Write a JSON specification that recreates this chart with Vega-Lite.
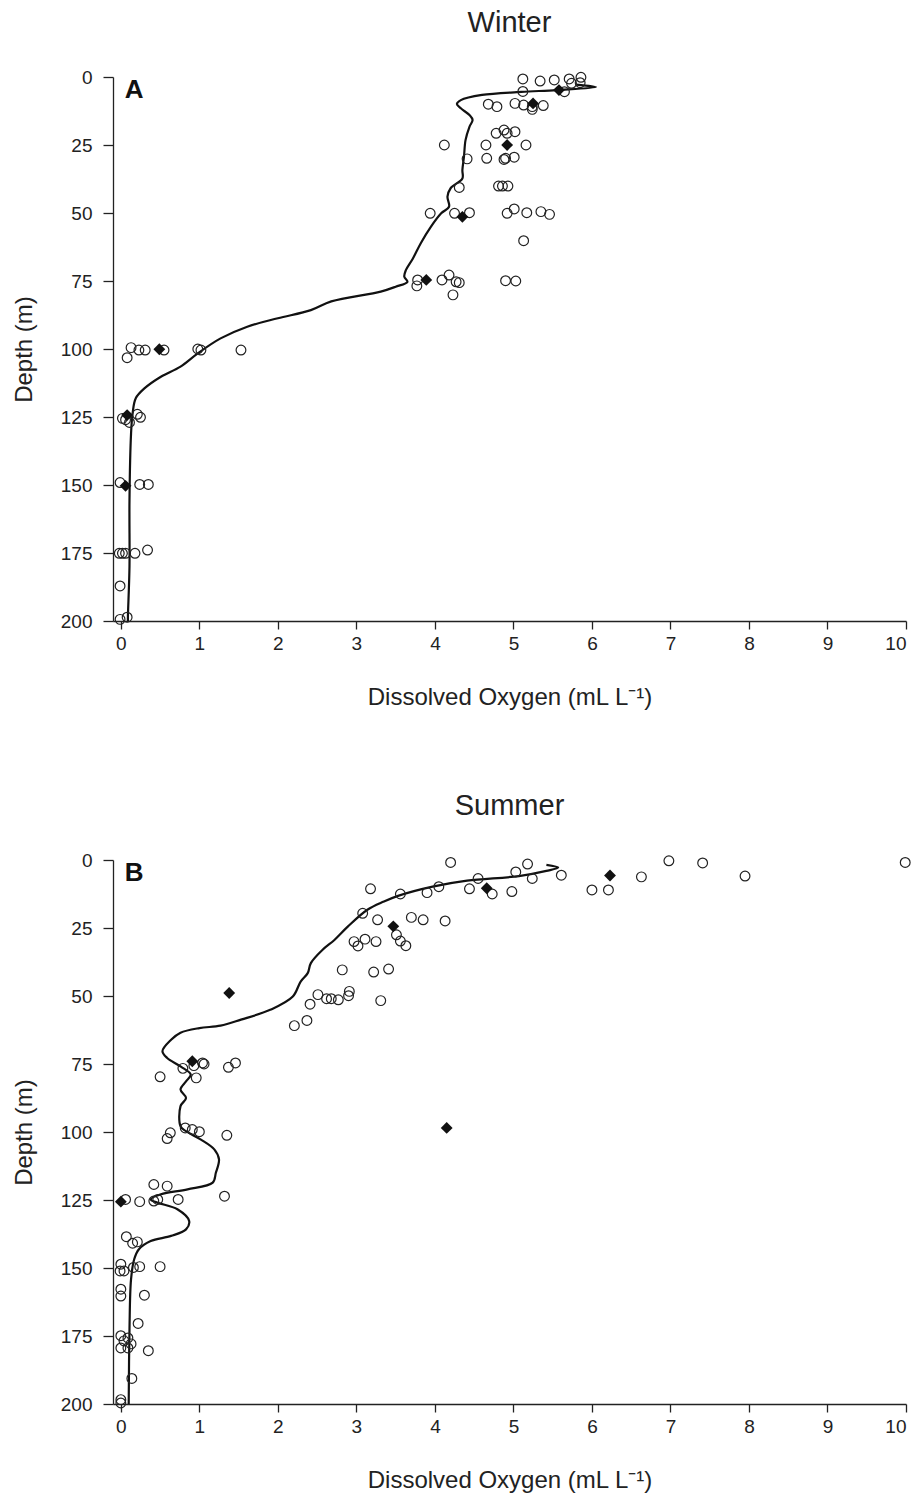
{
  "$schema": "https://vega.github.io/schema/vega-lite/v6.json",
  "background": "white",
  "padding": {"left": 12, "top": 9, "right": 5, "bottom": 5},
  "spacing": 83,
  "config": {
    "font": "Liberation Sans",
    "view": {"stroke": null},
    "axis": {"grid": false, "domainColor": "#222", "tickColor": "#222", "labelColor": "#222", "titleColor": "#222", "labelFontSize": 19, "titleFontSize": 24, "titleFontWeight": "normal", "domainWidth": 1.3, "tickWidth": 1.3},
    "title": {"fontSize": 29, "fontWeight": "normal", "color": "#222"}
  },
  "datasets": {
    "lineA": [
      {"i": 1, "do": 5.80, "depth": 2.8}, {"i": 2, "do": 6.05, "depth": 3.7}, {"i": 3, "do": 5.55, "depth": 4.8}, {"i": 4, "do": 5.10, "depth": 5.5}, {"i": 5, "do": 4.60, "depth": 6.6}, {"i": 6, "do": 4.33, "depth": 8.5}, {"i": 7, "do": 4.28, "depth": 9.9}, {"i": 8, "do": 4.33, "depth": 11.5}, {"i": 9, "do": 4.44, "depth": 14}, {"i": 10, "do": 4.48, "depth": 15.8}, {"i": 11, "do": 4.44, "depth": 18.3}, {"i": 12, "do": 4.39, "depth": 23.2}, {"i": 13, "do": 4.37, "depth": 29.3}, {"i": 14, "do": 4.35, "depth": 34.2}, {"i": 15, "do": 4.35, "depth": 37.3}, {"i": 16, "do": 4.20, "depth": 40.9}, {"i": 17, "do": 4.16, "depth": 44}, {"i": 18, "do": 4.18, "depth": 47.7}, {"i": 19, "do": 4.08, "depth": 50.1}, {"i": 20, "do": 3.95, "depth": 55}, {"i": 21, "do": 3.82, "depth": 61.1}, {"i": 22, "do": 3.72, "depth": 66.7}, {"i": 23, "do": 3.63, "depth": 71}, {"i": 24, "do": 3.61, "depth": 73.4}, {"i": 25, "do": 3.65, "depth": 75.3}, {"i": 26, "do": 3.50, "depth": 77.1}, {"i": 27, "do": 3.31, "depth": 78.9}, {"i": 28, "do": 2.68, "depth": 82.5}, {"i": 29, "do": 2.42, "depth": 85.7}, {"i": 30, "do": 2.0, "depth": 88.7}, {"i": 31, "do": 1.61, "depth": 91.8}, {"i": 32, "do": 1.27, "depth": 96.1}, {"i": 33, "do": 0.98, "depth": 101.6}, {"i": 34, "do": 0.76, "depth": 106.5}, {"i": 35, "do": 0.51, "depth": 110.2}, {"i": 36, "do": 0.30, "depth": 114.5}, {"i": 37, "do": 0.19, "depth": 118.1}, {"i": 38, "do": 0.15, "depth": 123.6}, {"i": 39, "do": 0.13, "depth": 131}, {"i": 40, "do": 0.11, "depth": 155.5}, {"i": 41, "do": 0.11, "depth": 180}, {"i": 42, "do": 0.09, "depth": 198.4}, {"i": 43, "do": 0.09, "depth": 200}
    ],
    "pointsA": [
      {"kind": "obs", "do": 5.12, "depth": 0.7}, {"kind": "obs", "do": 5.34, "depth": 1.5}, {"kind": "obs", "do": 5.52, "depth": 1.1}, {"kind": "obs", "do": 5.71, "depth": 0.7}, {"kind": "obs", "do": 5.86, "depth": 0.1}, {"kind": "obs", "do": 5.74, "depth": 2.3}, {"kind": "obs", "do": 5.85, "depth": 2.1}, {"kind": "obs", "do": 5.65, "depth": 5.4}, {"kind": "obs", "do": 5.12, "depth": 5.3},
      {"kind": "obs", "do": 4.68, "depth": 10.0}, {"kind": "obs", "do": 4.79, "depth": 10.9}, {"kind": "obs", "do": 5.02, "depth": 9.7}, {"kind": "obs", "do": 5.13, "depth": 10.3}, {"kind": "obs", "do": 5.24, "depth": 10.9}, {"kind": "obs", "do": 5.38, "depth": 10.5}, {"kind": "obs", "do": 5.24, "depth": 11.9},
      {"kind": "obs", "do": 4.78, "depth": 20.7}, {"kind": "obs", "do": 4.88, "depth": 19.5}, {"kind": "obs", "do": 4.92, "depth": 20.7}, {"kind": "obs", "do": 5.02, "depth": 20.1},
      {"kind": "obs", "do": 4.12, "depth": 25}, {"kind": "obs", "do": 4.65, "depth": 25}, {"kind": "obs", "do": 5.16, "depth": 25},
      {"kind": "obs", "do": 4.41, "depth": 30.1}, {"kind": "obs", "do": 4.66, "depth": 29.9}, {"kind": "obs", "do": 4.88, "depth": 30.3}, {"kind": "obs", "do": 4.90, "depth": 29.9}, {"kind": "obs", "do": 5.01, "depth": 29.5},
      {"kind": "obs", "do": 4.31, "depth": 40.6}, {"kind": "obs", "do": 4.81, "depth": 40.1}, {"kind": "obs", "do": 4.86, "depth": 40.1}, {"kind": "obs", "do": 4.93, "depth": 40.1},
      {"kind": "obs", "do": 3.94, "depth": 50.1}, {"kind": "obs", "do": 4.25, "depth": 50.1}, {"kind": "obs", "do": 4.44, "depth": 49.9}, {"kind": "obs", "do": 4.92, "depth": 50.1}, {"kind": "obs", "do": 5.01, "depth": 48.5}, {"kind": "obs", "do": 5.17, "depth": 49.9}, {"kind": "obs", "do": 5.35, "depth": 49.5}, {"kind": "obs", "do": 5.46, "depth": 50.5},
      {"kind": "obs", "do": 5.13, "depth": 60.2},
      {"kind": "obs", "do": 3.78, "depth": 74.6}, {"kind": "obs", "do": 3.77, "depth": 76.8}, {"kind": "obs", "do": 4.09, "depth": 74.6}, {"kind": "obs", "do": 4.18, "depth": 72.8}, {"kind": "obs", "do": 4.27, "depth": 75.3}, {"kind": "obs", "do": 4.31, "depth": 75.6}, {"kind": "obs", "do": 4.23, "depth": 80.1}, {"kind": "obs", "do": 4.90, "depth": 74.9}, {"kind": "obs", "do": 5.03, "depth": 75},
      {"kind": "obs", "do": 0.13, "depth": 99.5}, {"kind": "obs", "do": 0.23, "depth": 100.4}, {"kind": "obs", "do": 0.31, "depth": 100.4}, {"kind": "obs", "do": 0.08, "depth": 103.2}, {"kind": "obs", "do": 0.55, "depth": 100.4}, {"kind": "obs", "do": 0.98, "depth": 100}, {"kind": "obs", "do": 1.02, "depth": 100.4}, {"kind": "obs", "do": 1.53, "depth": 100.4},
      {"kind": "obs", "do": 0.02, "depth": 125.5}, {"kind": "obs", "do": 0.06, "depth": 126}, {"kind": "obs", "do": 0.11, "depth": 127}, {"kind": "obs", "do": 0.21, "depth": 124}, {"kind": "obs", "do": 0.25, "depth": 125.1},
      {"kind": "obs", "do": -0.01, "depth": 149.1}, {"kind": "obs", "do": 0.24, "depth": 149.8}, {"kind": "obs", "do": 0.35, "depth": 149.8},
      {"kind": "obs", "do": -0.02, "depth": 175.1}, {"kind": "obs", "do": 0.02, "depth": 175.1}, {"kind": "obs", "do": 0.06, "depth": 175.1}, {"kind": "obs", "do": 0.18, "depth": 175.1}, {"kind": "obs", "do": 0.34, "depth": 173.9},
      {"kind": "obs", "do": -0.01, "depth": 187.1}, {"kind": "obs", "do": -0.01, "depth": 199.4}, {"kind": "obs", "do": 0.08, "depth": 198.6},
      {"kind": "mean", "do": 5.58, "depth": 4.8}, {"kind": "mean", "do": 5.25, "depth": 9.7}, {"kind": "mean", "do": 4.92, "depth": 25}, {"kind": "mean", "do": 4.35, "depth": 51.4}, {"kind": "mean", "do": 3.89, "depth": 74.6}, {"kind": "mean", "do": 0.49, "depth": 100.1}, {"kind": "mean", "do": 0.08, "depth": 124.3}, {"kind": "mean", "do": 0.06, "depth": 150.3}
    ],
    "lineB": [
      {"i": 1, "do": 5.42, "depth": 1.8}, {"i": 2, "do": 5.57, "depth": 2.8}, {"i": 3, "do": 5.42, "depth": 4.0}, {"i": 4, "do": 5.07, "depth": 5.9}, {"i": 5, "do": 4.41, "depth": 7.6}, {"i": 6, "do": 3.97, "depth": 9.8}, {"i": 7, "do": 3.53, "depth": 13.2}, {"i": 8, "do": 3.35, "depth": 15.3}, {"i": 9, "do": 3.14, "depth": 18.3}, {"i": 10, "do": 2.89, "depth": 24.5}, {"i": 11, "do": 2.72, "depth": 29.4}, {"i": 12, "do": 2.57, "depth": 33}, {"i": 13, "do": 2.42, "depth": 37.9}, {"i": 14, "do": 2.38, "depth": 41.6}, {"i": 15, "do": 2.29, "depth": 44.7}, {"i": 16, "do": 2.19, "depth": 50.2}, {"i": 17, "do": 1.91, "depth": 55}, {"i": 18, "do": 1.53, "depth": 58.7}, {"i": 19, "do": 1.27, "depth": 60.9}, {"i": 20, "do": 1.0, "depth": 61.8}, {"i": 21, "do": 0.76, "depth": 63.5}, {"i": 22, "do": 0.64, "depth": 66.1}, {"i": 23, "do": 0.53, "depth": 70.3}, {"i": 24, "do": 0.59, "depth": 72.8}, {"i": 25, "do": 0.76, "depth": 75.9}, {"i": 26, "do": 0.89, "depth": 78.9}, {"i": 27, "do": 0.83, "depth": 81.4}, {"i": 28, "do": 0.76, "depth": 84.4}, {"i": 29, "do": 0.83, "depth": 87.5}, {"i": 30, "do": 0.76, "depth": 90.5}, {"i": 31, "do": 0.76, "depth": 97.9}, {"i": 32, "do": 0.83, "depth": 99.7}, {"i": 33, "do": 1.02, "depth": 102.8}, {"i": 34, "do": 1.19, "depth": 106.4}, {"i": 35, "do": 1.25, "depth": 110.1}, {"i": 36, "do": 1.21, "depth": 115}, {"i": 37, "do": 1.17, "depth": 118.6}, {"i": 38, "do": 0.85, "depth": 121.1}, {"i": 39, "do": 0.51, "depth": 122.9}, {"i": 40, "do": 0.38, "depth": 124.8}, {"i": 41, "do": 0.47, "depth": 126}, {"i": 42, "do": 0.72, "depth": 128.4}, {"i": 43, "do": 0.87, "depth": 132.7}, {"i": 44, "do": 0.83, "depth": 135.8}, {"i": 45, "do": 0.64, "depth": 138.2}, {"i": 46, "do": 0.38, "depth": 140.1}, {"i": 47, "do": 0.23, "depth": 143.1}, {"i": 48, "do": 0.17, "depth": 146.8}, {"i": 49, "do": 0.13, "depth": 154.1}, {"i": 50, "do": 0.11, "depth": 172.5}, {"i": 51, "do": 0.10, "depth": 200}
    ],
    "pointsB": [
      {"kind": "obs", "do": 4.20, "depth": 0.9}, {"kind": "obs", "do": 5.18, "depth": 1.5}, {"kind": "obs", "do": 5.03, "depth": 4.4}, {"kind": "obs", "do": 5.24, "depth": 6.8}, {"kind": "obs", "do": 5.61, "depth": 5.6}, {"kind": "obs", "do": 4.55, "depth": 6.8}, {"kind": "obs", "do": 4.44, "depth": 10.6}, {"kind": "obs", "do": 4.73, "depth": 12.5}, {"kind": "obs", "do": 4.98, "depth": 11.6}, {"kind": "obs", "do": 4.05, "depth": 9.8}, {"kind": "obs", "do": 3.90, "depth": 12}, {"kind": "obs", "do": 3.56, "depth": 12.5}, {"kind": "obs", "do": 6.0, "depth": 11}, {"kind": "obs", "do": 6.21, "depth": 11}, {"kind": "obs", "do": 6.63, "depth": 6.2}, {"kind": "obs", "do": 6.98, "depth": 0.3}, {"kind": "obs", "do": 7.41, "depth": 1.1}, {"kind": "obs", "do": 7.95, "depth": 5.9}, {"kind": "obs", "do": 9.99, "depth": 0.9},
      {"kind": "obs", "do": 3.18, "depth": 10.6}, {"kind": "obs", "do": 3.08, "depth": 19.6}, {"kind": "obs", "do": 3.27, "depth": 22}, {"kind": "obs", "do": 3.70, "depth": 21.1}, {"kind": "obs", "do": 3.85, "depth": 22}, {"kind": "obs", "do": 4.13, "depth": 22.4}, {"kind": "obs", "do": 3.51, "depth": 27.5}, {"kind": "obs", "do": 3.56, "depth": 29.8}, {"kind": "obs", "do": 3.63, "depth": 31.5},
      {"kind": "obs", "do": 2.97, "depth": 30}, {"kind": "obs", "do": 3.02, "depth": 31.6}, {"kind": "obs", "do": 3.11, "depth": 29.1}, {"kind": "obs", "do": 3.25, "depth": 30},
      {"kind": "obs", "do": 2.82, "depth": 40.4}, {"kind": "obs", "do": 3.22, "depth": 41.2}, {"kind": "obs", "do": 3.41, "depth": 40.1},
      {"kind": "obs", "do": 2.51, "depth": 49.5}, {"kind": "obs", "do": 2.41, "depth": 53}, {"kind": "obs", "do": 2.62, "depth": 51}, {"kind": "obs", "do": 2.68, "depth": 51}, {"kind": "obs", "do": 2.77, "depth": 51.4}, {"kind": "obs", "do": 2.91, "depth": 48.3}, {"kind": "obs", "do": 2.90, "depth": 49.9}, {"kind": "obs", "do": 3.31, "depth": 51.7}, {"kind": "obs", "do": 2.37, "depth": 59}, {"kind": "obs", "do": 2.21, "depth": 60.9},
      {"kind": "obs", "do": 1.37, "depth": 76.2}, {"kind": "obs", "do": 1.46, "depth": 74.6}, {"kind": "obs", "do": 0.79, "depth": 76.6}, {"kind": "obs", "do": 0.93, "depth": 75.6}, {"kind": "obs", "do": 1.04, "depth": 74.6}, {"kind": "obs", "do": 1.06, "depth": 75}, {"kind": "obs", "do": 0.50, "depth": 79.7}, {"kind": "obs", "do": 0.96, "depth": 80.1},
      {"kind": "obs", "do": 0.82, "depth": 98.5}, {"kind": "obs", "do": 0.91, "depth": 99.1}, {"kind": "obs", "do": 1.00, "depth": 99.9}, {"kind": "obs", "do": 0.63, "depth": 100.3}, {"kind": "obs", "do": 0.59, "depth": 102.4}, {"kind": "obs", "do": 1.35, "depth": 101.2},
      {"kind": "obs", "do": 0.42, "depth": 119.3}, {"kind": "obs", "do": 0.59, "depth": 119.9}, {"kind": "obs", "do": 1.32, "depth": 123.6}, {"kind": "obs", "do": 0.06, "depth": 124.8}, {"kind": "obs", "do": 0.24, "depth": 125.6}, {"kind": "obs", "do": 0.42, "depth": 125.4}, {"kind": "obs", "do": 0.47, "depth": 124.8}, {"kind": "obs", "do": 0.73, "depth": 124.8},
      {"kind": "obs", "do": 0.07, "depth": 138.5}, {"kind": "obs", "do": 0.15, "depth": 140.9}, {"kind": "obs", "do": 0.21, "depth": 140.4},
      {"kind": "obs", "do": 0.0, "depth": 148.6}, {"kind": "obs", "do": -0.01, "depth": 151.1}, {"kind": "obs", "do": 0.04, "depth": 151.1}, {"kind": "obs", "do": 0.16, "depth": 149.8}, {"kind": "obs", "do": 0.24, "depth": 149.5}, {"kind": "obs", "do": 0.50, "depth": 149.5},
      {"kind": "obs", "do": 0.0, "depth": 157.8}, {"kind": "obs", "do": 0.0, "depth": 160.3}, {"kind": "obs", "do": 0.30, "depth": 160}, {"kind": "obs", "do": 0.22, "depth": 170.4},
      {"kind": "obs", "do": 0.0, "depth": 174.9}, {"kind": "obs", "do": 0.04, "depth": 176.8}, {"kind": "obs", "do": 0.09, "depth": 175.7}, {"kind": "obs", "do": 0.13, "depth": 177.9}, {"kind": "obs", "do": 0.0, "depth": 179.4}, {"kind": "obs", "do": 0.09, "depth": 179.4}, {"kind": "obs", "do": 0.35, "depth": 180.4}, {"kind": "obs", "do": 0.14, "depth": 190.6}, {"kind": "obs", "do": 0.0, "depth": 198.4}, {"kind": "obs", "do": 0.0, "depth": 199.6},
      {"kind": "mean", "do": 6.23, "depth": 5.7}, {"kind": "mean", "do": 4.66, "depth": 10.4}, {"kind": "mean", "do": 3.47, "depth": 24.4}, {"kind": "mean", "do": 1.38, "depth": 48.9}, {"kind": "mean", "do": 0.91, "depth": 74}, {"kind": "mean", "do": 4.15, "depth": 98.5}, {"kind": "mean", "do": 0.0, "depth": 125.6}
    ]
  },
  "vconcat": [
    {
      "title": {"text": "Winter", "anchor": "middle", "offset": 30},
      "width": 793,
      "height": 544,
      "layer": [
        {"data": {"name": "lineA"}, "mark": {"type": "line", "color": "#111", "strokeWidth": 2.2, "interpolate": "catmull-rom"},
         "encoding": {
           "x": {"field": "do", "type": "quantitative", "scale": {"domain": [-0.1, 10], "nice": false, "zero": false}, "axis": {"values": [0, 1, 2, 3, 4, 5, 6, 7, 8, 9, 10], "format": "d", "title": "Dissolved Oxygen (mL L⁻¹)", "tickSize": 8, "labelPadding": 5, "titlePadding": 32}},
           "y": {"field": "depth", "type": "quantitative", "scale": {"domain": [0, 200], "reverse": true, "nice": false, "zero": false}, "axis": {"values": [0, 25, 50, 75, 100, 125, 150, 175, 200], "format": "d", "title": "Depth (m)", "tickSize": 10, "labelPadding": 11, "titlePadding": 24}},
           "order": {"field": "i", "type": "quantitative"}}},
        {"data": {"name": "pointsA"}, "transform": [{"filter": "datum.kind === 'obs'"}], "mark": {"type": "point", "shape": "circle", "filled": false, "color": "#222", "size": 95, "strokeWidth": 1.2, "opacity": 1},
         "encoding": {"x": {"field": "do", "type": "quantitative"}, "y": {"field": "depth", "type": "quantitative"}}},
        {"data": {"name": "pointsA"}, "transform": [{"filter": "datum.kind === 'mean'"}], "mark": {"type": "point", "shape": "diamond", "filled": true, "color": "#111", "size": 140, "opacity": 1},
         "encoding": {"x": {"field": "do", "type": "quantitative"}, "y": {"field": "depth", "type": "quantitative"}}},
        {"data": {"values": [{"label": "A"}]}, "mark": {"type": "text", "fontSize": 26, "fontWeight": "bold", "align": "left", "baseline": "middle", "color": "#111"},
         "encoding": {"x": {"datum": 0.05, "type": "quantitative"}, "y": {"datum": 4.8, "type": "quantitative"}, "text": {"field": "label"}}}
      ]
    },
    {
      "title": {"text": "Summer", "anchor": "middle", "offset": 30},
      "width": 793,
      "height": 544,
      "layer": [
        {"data": {"name": "lineB"}, "mark": {"type": "line", "color": "#111", "strokeWidth": 2.2, "interpolate": "catmull-rom"},
         "encoding": {
           "x": {"field": "do", "type": "quantitative", "scale": {"domain": [-0.1, 10], "nice": false, "zero": false}, "axis": {"values": [0, 1, 2, 3, 4, 5, 6, 7, 8, 9, 10], "format": "d", "title": "Dissolved Oxygen (mL L⁻¹)", "tickSize": 8, "labelPadding": 5, "titlePadding": 32}},
           "y": {"field": "depth", "type": "quantitative", "scale": {"domain": [0, 200], "reverse": true, "nice": false, "zero": false}, "axis": {"values": [0, 25, 50, 75, 100, 125, 150, 175, 200], "format": "d", "title": "Depth (m)", "tickSize": 10, "labelPadding": 11, "titlePadding": 24}},
           "order": {"field": "i", "type": "quantitative"}}},
        {"data": {"name": "pointsB"}, "transform": [{"filter": "datum.kind === 'obs'"}], "mark": {"type": "point", "shape": "circle", "filled": false, "color": "#222", "size": 95, "strokeWidth": 1.2, "opacity": 1},
         "encoding": {"x": {"field": "do", "type": "quantitative"}, "y": {"field": "depth", "type": "quantitative"}}},
        {"data": {"name": "pointsB"}, "transform": [{"filter": "datum.kind === 'mean'"}], "mark": {"type": "point", "shape": "diamond", "filled": true, "color": "#111", "size": 140, "opacity": 1},
         "encoding": {"x": {"field": "do", "type": "quantitative"}, "y": {"field": "depth", "type": "quantitative"}}},
        {"data": {"values": [{"label": "B"}]}, "mark": {"type": "text", "fontSize": 26, "fontWeight": "bold", "align": "left", "baseline": "middle", "color": "#111"},
         "encoding": {"x": {"datum": 0.05, "type": "quantitative"}, "y": {"datum": 4.8, "type": "quantitative"}, "text": {"field": "label"}}}
      ]
    }
  ]
}
